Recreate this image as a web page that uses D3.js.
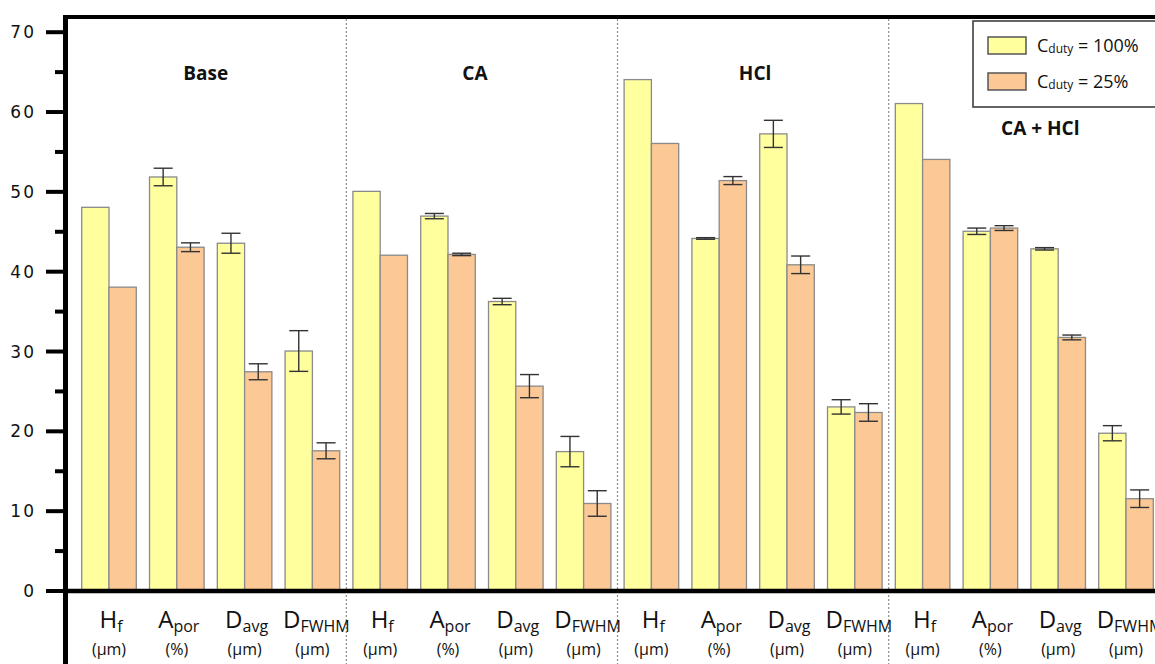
<!DOCTYPE html>
<html>
<head>
<meta charset="utf-8">
<script src="https://cdn.jsdelivr.net/npm/d3@7/dist/d3.min.js"></script>
<style>
  html, body { margin: 0; padding: 0; background: #fff; overflow: hidden; }
  svg { display: block; }
</style>
</head>
<body>
<svg id="chart" width="1155" height="664"></svg>
<script>
// ---- data ----
const groups = ["Base", "CA", "HCl", "CA + HCl"];
const params = [
  { main: "H", sub: "f", unit: "(μm)" },
  { main: "A", sub: "por", unit: "(%)" },
  { main: "D", sub: "avg", unit: "(μm)" },
  { main: "D", sub: "FWHM", unit: "(μm)" }
];
const seriesNames = ["100%", "25%"];
const val100 = [48, 51.8, 43.5, 30.0, 50, 46.9, 36.2, 17.4, 64, 44.1, 57.2, 23.0, 61, 45.0, 42.8, 19.7];
const err100 = [0, 1.1, 1.25, 2.55, 0, 0.33, 0.4, 1.9, 0, 0.1, 1.7, 0.9, 0, 0.4, 0.15, 0.95];
const val25  = [38, 43.0, 27.4, 17.5, 42, 42.1, 25.6, 10.9, 56, 51.35, 40.8, 22.3, 54, 45.4, 31.7, 11.5];
const err25  = [0, 0.55, 1.0, 1.0, 0, 0.15, 1.45, 1.6, 0, 0.5, 1.1, 1.1, 0, 0.3, 0.3, 1.1];
const yMajorTicks = [0, 10, 20, 30, 40, 50, 60, 70];
const yMinorTicks = [5, 15, 25, 35, 45, 55, 65];

// ---- styles ----
const colors = ["#FFFF9E", "#FCC896"];
const barStroke = "#8a8a8a";

const svg = d3.select("#chart");
const W = 1155, H = 664;
const axisX = 65.5, axisY = 591;

const ids = [];
groups.forEach((g, gi) => params.forEach((p, pi) => ids.push(gi * 4 + pi)));

const x = d3.scaleBand().domain(ids).range([75.1, 1159.9]).paddingInner(0.195).paddingOuter(0.0975);
const xs = d3.scaleBand().domain([0, 1]).range([0, x.bandwidth()]);
const y = d3.scaleLinear().domain([0, 70]).range([590.5, 31.7]);

// group dividers (dotted)
const step = x.step();
const dividers = [1, 2, 3].map(k => x(k * 4) - step * x.paddingInner() / 2);
svg.selectAll("line.div").data(dividers).enter().append("line")
  .attr("class", "div")
  .attr("x1", d => d).attr("x2", d => d)
  .attr("y1", 19).attr("y2", H)
  .attr("stroke", "#8c8c8c").attr("stroke-width", 1.2)
  .attr("stroke-dasharray", "2,2");

// bars
const barData = [];
ids.forEach(i => {
  barData.push({ i, s: 0, v: val100[i], e: err100[i] });
  barData.push({ i, s: 1, v: val25[i], e: err25[i] });
});
svg.selectAll("rect.bar").data(barData).enter().append("rect")
  .attr("class", "bar")
  .attr("x", d => x(d.i) + xs(d.s))
  .attr("y", d => y(d.v))
  .attr("width", xs.bandwidth())
  .attr("height", d => y(0) - y(d.v))
  .attr("fill", d => colors[d.s])
  .attr("stroke", barStroke).attr("stroke-width", 1.3);

// error bars
const capW = 19;
const eb = svg.selectAll("g.err").data(barData.filter(d => d.e > 0)).enter().append("g")
  .attr("class", "err")
  .attr("stroke", "#333").attr("stroke-width", 1.4);
eb.append("line")
  .attr("x1", d => x(d.i) + xs(d.s) + xs.bandwidth() / 2)
  .attr("x2", d => x(d.i) + xs(d.s) + xs.bandwidth() / 2)
  .attr("y1", d => y(d.v + d.e)).attr("y2", d => y(d.v - d.e));
[1, -1].forEach(sgn => {
  eb.append("line")
    .attr("x1", d => x(d.i) + xs(d.s) + xs.bandwidth() / 2 - capW / 2)
    .attr("x2", d => x(d.i) + xs(d.s) + xs.bandwidth() / 2 + capW / 2)
    .attr("y1", d => y(d.v + sgn * d.e)).attr("y2", d => y(d.v + sgn * d.e));
});

// frame lines
svg.append("line").attr("x1", 63).attr("x2", W).attr("y1", 17).attr("y2", 17)
  .attr("stroke", "#000").attr("stroke-width", 4);
svg.append("line").attr("x1", 63).attr("x2", W).attr("y1", axisY).attr("y2", axisY)
  .attr("stroke", "#000").attr("stroke-width", 4.5);
svg.append("line").attr("x1", axisX).attr("x2", axisX).attr("y1", 15).attr("y2", H)
  .attr("stroke", "#000").attr("stroke-width", 5);

// y axis
const yAxis = d3.axisLeft(y).tickValues(yMajorTicks).tickSize(17).tickPadding(10).tickFormat(d3.format("d"));
const gy = svg.append("g").attr("transform", `translate(${axisX - 2.5},0)`).call(yAxis);
gy.select(".domain").remove();
gy.selectAll(".tick line").attr("stroke", "#000").attr("stroke-width", 4);
gy.selectAll(".tick text")
  .attr("font-family", "DejaVu Sans, sans-serif").attr("font-size", 17)
  .attr("letter-spacing", "2px")
  .attr("fill", "#111").attr("dy", "0.36em");
const yMinor = d3.axisLeft(y).tickValues(yMinorTicks).tickSize(8).tickFormat("");
const gm = svg.append("g").attr("transform", `translate(${axisX - 2.5},0)`).call(yMinor);
gm.select(".domain").remove();
gm.selectAll(".tick line").attr("stroke", "#000").attr("stroke-width", 4);

// x labels
const xl = svg.selectAll("g.xl").data(ids).enter().append("g").attr("class", "xl");
const mainT = xl.append("text")
  .attr("x", d => x(d) + x.bandwidth() / 2 + (params[d % 4].sub.length > 3 ? 4 : 2))
  .attr("y", 628)
  .attr("text-anchor", "middle")
  .attr("font-family", "Open Sans, sans-serif")
  .attr("fill", "#111");
mainT.append("tspan").attr("font-size", 24).text(d => params[d % 4].main);
mainT.append("tspan").attr("font-size", 16).attr("dy", 4).text(d => params[d % 4].sub);
xl.append("text")
  .attr("x", d => x(d) + x.bandwidth() / 2)
  .attr("y", 655)
  .attr("text-anchor", "middle")
  .attr("font-family", "Open Sans, sans-serif")
  .attr("font-size", 16)
  .attr("fill", "#111")
  .text(d => params[d % 4].unit);

// group labels
const labelDx = [-5, -7, 2, 16];
const labelY = [80, 80, 80, 135];
svg.selectAll("text.grp").data(groups).enter().append("text")
  .attr("class", "grp")
  .attr("x", (d, gi) => (x(gi * 4) + x(gi * 4 + 3) + x.bandwidth()) / 2 + labelDx[gi])
  .attr("y", (d, gi) => labelY[gi])
  .attr("text-anchor", "middle")
  .attr("font-family", "Open Sans, sans-serif")
  .attr("font-weight", "bold")
  .attr("font-size", 19)
  .attr("fill", "#111")
  .text(d => d);

// legend
const lg = svg.append("g");
lg.append("rect").attr("x", 973).attr("y", 21).attr("width", 220).attr("height", 86)
  .attr("fill", "#fff").attr("stroke", "#333").attr("stroke-width", 1.5);
seriesNames.forEach((s, k) => {
  lg.append("rect").attr("x", 988).attr("y", 37 + k * 36).attr("width", 38).attr("height", 17)
    .attr("fill", colors[k]).attr("stroke", "#555").attr("stroke-width", 1.5);
  const t = lg.append("text").attr("x", 1037).attr("y", 52 + k * 36)
    .attr("font-family", "Open Sans, sans-serif").attr("fill", "#111");
  t.append("tspan").attr("font-size", 18).text("C");
  t.append("tspan").attr("font-size", 12).attr("dy", 1).text("duty");
  t.append("tspan").attr("font-size", 18).attr("dy", -1).text(" = " + s);
});
</script>
</body>
</html>
